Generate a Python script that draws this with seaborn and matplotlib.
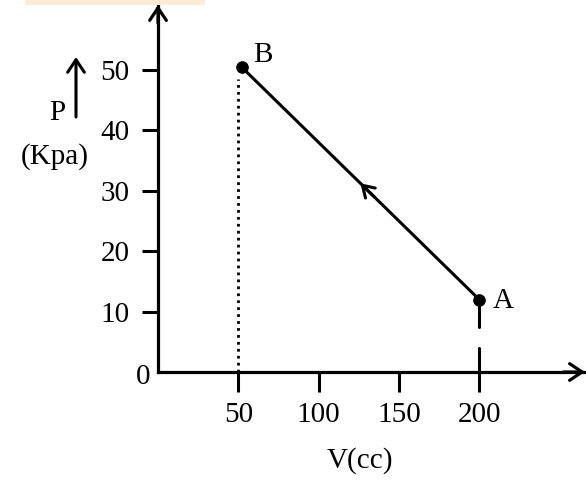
import matplotlib
matplotlib.use("Agg")
import matplotlib.pyplot as plt
import seaborn as sns
import pandas as pd

# ---- data ----
point_labels = ["A", "B"]
volume_cc = [200, 52]
pressure_kpa = [12, 50.5]
x_ticks = [50, 100, 150, 200]
y_ticks = [10, 20, 30, 40, 50]
x_tick_labels = ["50", "100", "150", "200"]
y_tick_labels = ["10", "20", "30", "40", "50"]

df = pd.DataFrame({"V": volume_cc, "P": pressure_kpa, "label": point_labels})

sns.set_style("white")
plt.rcParams["font.family"] = ["Liberation Serif", "DejaVu Serif"]
plt.rcParams["text.color"] = "black"

W, H = 586, 482
fig = plt.figure(figsize=(W / 100, H / 100), dpi=100)
fig.patch.set_facecolor("white")

# axes: origin at pixel (158, 372), right end 585, top 5
ax = fig.add_axes([158 / W, (H - 372) / H, (585 - 158) / W, (372 - 5) / H])
ax.set_facecolor("none")
ax.set_xlim(0, (585 - 158) / 1.606)
ax.set_ylim(0, (372 - 5) / 6.04)

for s in ["top", "right"]:
    ax.spines[s].set_visible(False)
for s in ["left", "bottom"]:
    ax.spines[s].set_linewidth(2.3)
    ax.spines[s].set_color("black")

AX_ARROW = dict(arrowstyle="->,head_length=0.45,head_width=0.3",
                lw=2.3, color="black", shrinkA=0, shrinkB=0, mutation_scale=20)
# axis arrowheads
ax.annotate("", xy=(1.0, 0), xytext=(0.95, 0), xycoords="axes fraction",
            arrowprops=AX_ARROW)
ax.annotate("", xy=(0, 1.0), xytext=(0, 0.95), xycoords="axes fraction",
            arrowprops=AX_ARROW)

# process line B-A
sns.lineplot(data=df, x="V", y="P", ax=ax, color="black", lw=2.2,
             sort=False, estimator=None)
sns.scatterplot(data=df, x="V", y="P", ax=ax, color="black", s=70,
                edgecolor="black", zorder=5)

# direction arrow along the line (from A towards B)
mx = (volume_cc[0] + volume_cc[1]) / 2
my = (pressure_kpa[0] + pressure_kpa[1]) / 2
ax.annotate("", xy=(mx, my),
            xytext=(mx + (volume_cc[0] - volume_cc[1]) * 0.06,
                    my + (pressure_kpa[0] - pressure_kpa[1]) * 0.06),
            arrowprops=dict(arrowstyle="->,head_length=0.4,head_width=0.25",
                            lw=2.2, color="black", shrinkA=0, shrinkB=0,
                            mutation_scale=20))

# dotted drop line from B
ax.plot([x_ticks[0], x_ticks[0]], [0, pressure_kpa[1] - 2], color="black",
        ls=(0, (1, 1.5)), lw=2.0)
# broken drop line from A
ax.plot([volume_cc[0], volume_cc[0]], [pressure_kpa[0], 7.5], color="black", lw=2.2)
ax.plot([volume_cc[0], volume_cc[0]], [4.0, 0], color="black", lw=2.2)

ax.set_xticks(x_ticks)
ax.set_xticklabels(x_tick_labels)
ax.set_yticks(y_ticks)
ax.set_yticklabels(y_tick_labels)
ax.tick_params(axis="x", bottom=True, direction="out", length=14.4, width=2.2,
               pad=7, labelsize=21, colors="black")
ax.tick_params(axis="y", left=True, direction="out", length=11.5, width=2.2,
               pad=9, labelsize=21, colors="black")
ax.set_xlabel("")
ax.set_ylabel("")

def ftext(px, py, s, **kw):
    fig.text(px / W, 1 - py / H, s, color="black", **kw)

ftext(150, 377, "0", ha="right", va="center", fontsize=21)
ftext(263, 55, "B", ha="center", va="center", fontsize=21)
ftext(503, 301, "A", ha="center", va="center", fontsize=21)
ftext(57, 113, "P", ha="center", va="center", fontsize=21)
ftext(55, 157, "(Kpa)", ha="center", va="center", fontsize=21)
ftext(360, 461, "V(cc)", ha="center", va="center", fontsize=21)

# small up arrow next to P
fig.add_artist(matplotlib.patches.FancyArrowPatch(
    (76 / W, 1 - 117 / H), (76 / W, 1 - 57 / H), transform=fig.transFigure,
    arrowstyle="->,head_length=0.45,head_width=0.3", lw=2.2, color="black",
    shrinkA=0, shrinkB=0, mutation_scale=20))

# decorative band at top
fig.add_artist(matplotlib.patches.Rectangle((25 / W, 1 - 5 / H), 180 / W, 5 / H,
               transform=fig.transFigure, color="#fdebd6", lw=0))

fig.savefig("out.png", dpi=100)
